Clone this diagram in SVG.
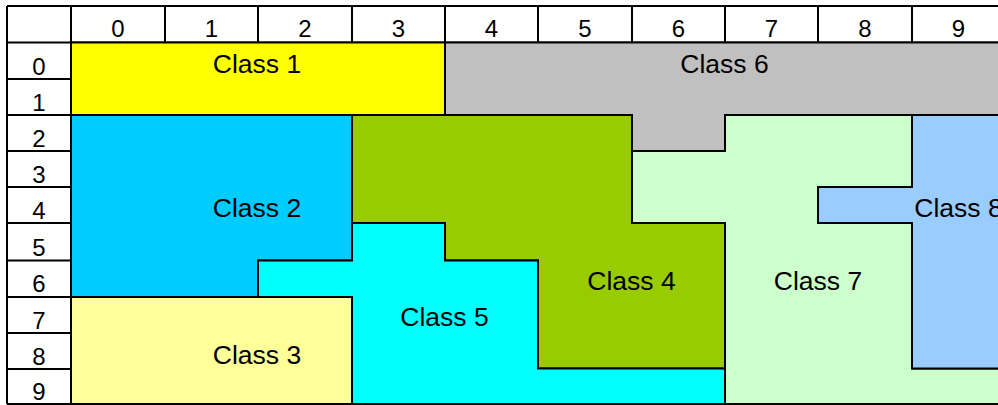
<svg xmlns="http://www.w3.org/2000/svg" width="998" height="405" viewBox="0 0 998 405">
<style>
.t{font-family:"Liberation Sans",Arial,sans-serif;fill:#000;text-anchor:middle}
.h{font-size:24px}
.l{font-size:26.5px}
.r{stroke:#000;stroke-width:2;stroke-linejoin:miter}
.g{fill:none;stroke:#000;stroke-width:2}
</style>
<rect x="0" y="0" width="998" height="405" fill="#ffffff"/>
<g id="header">
<path class="g" d="M7,6H998M7,42.5H998M7,6V404M71,6V404M165,6V42.5M258,6V42.5M352,6V42.5M445,6V42.5M538,6V42.5M632,6V42.5M725,6V42.5M818,6V42.5M912,6V42.5"/>
<path class="g" d="M7,79H71M7,115H71M7,151H71M7,187H71M7,223H71M7,260.5H71M7,297H71M7,333H71M7,369H71M7,404H71"/>
<text class="t h" x="118" y="37">0</text>
<text class="t h" x="211.5" y="37">1</text>
<text class="t h" x="305" y="37">2</text>
<text class="t h" x="398.5" y="37">3</text>
<text class="t h" x="491.5" y="37">4</text>
<text class="t h" x="585" y="37">5</text>
<text class="t h" x="678.5" y="37">6</text>
<text class="t h" x="771.5" y="37">7</text>
<text class="t h" x="865" y="37">8</text>
<text class="t h" x="958.5" y="37">9</text>
<text class="t h" x="39" y="74.5">0</text>
<text class="t h" x="39" y="110.5">1</text>
<text class="t h" x="39" y="146.5">2</text>
<text class="t h" x="39" y="182.5">3</text>
<text class="t h" x="39" y="218.5">4</text>
<text class="t h" x="39" y="255.5">5</text>
<text class="t h" x="39" y="292">6</text>
<text class="t h" x="39" y="328.5">7</text>
<text class="t h" x="39" y="364.5">8</text>
<text class="t h" x="39" y="399.5">9</text>
</g>
<g id="class1">
<polygon class="r" fill="#FFFF00" points="71,42.5 445,42.5 445,115 71,115"/>
<text class="t l" x="257" y="73">Class 1</text>
</g>
<g id="class6">
<polygon class="r" fill="#C0C0C0" points="445,42.5 1005,42.5 1005,115 725,115 725,151 632,151 632,115 445,115"/>
<text class="t l" x="724.5" y="73">Class 6</text>
</g>
<g id="class2">
<polygon class="r" fill="#00CCFF" points="71,115 352,115 352,260.5 258,260.5 258,297 71,297"/>
<text class="t l" x="257" y="216.5">Class 2</text>
</g>
<g id="class3">
<polygon class="r" fill="#FFFF99" points="71,297 352,297 352,404 71,404"/>
<text class="t l" x="257" y="363.5">Class 3</text>
</g>
<g id="class4">
<polygon class="r" fill="#99CC00" points="352,115 632,115 632,223 725,223 725,368.5 538,368.5 538,260.5 445,260.5 445,223 352,223"/>
<text class="t l" x="631.5" y="290">Class 4</text>
</g>
<g id="class5">
<polygon class="r" fill="#00FFFF" points="352,223 445,223 445,260.5 538,260.5 538,368.5 725,368.5 725,404 352,404 352,297 258,297 258,260.5 352,260.5"/>
<text class="t l" x="444.5" y="326">Class 5</text>
</g>
<g id="class7">
<polygon class="r" fill="#CCFFCC" points="725,115 912,115 912,187 818,187 818,223 912,223 912,368.5 1005,368.5 1005,404 725,404 725,223 632,223 632,151 725,151"/>
<text class="t l" x="818" y="290">Class 7</text>
</g>
<g id="class8">
<polygon class="r" fill="#99CCFF" points="912,115 1005,115 1005,368.5 912,368.5 912,223 818,223 818,187 912,187"/>
<text class="t l" x="958.5" y="217">Class 8</text>
</g>
<g id="connectors"/>
</svg>
